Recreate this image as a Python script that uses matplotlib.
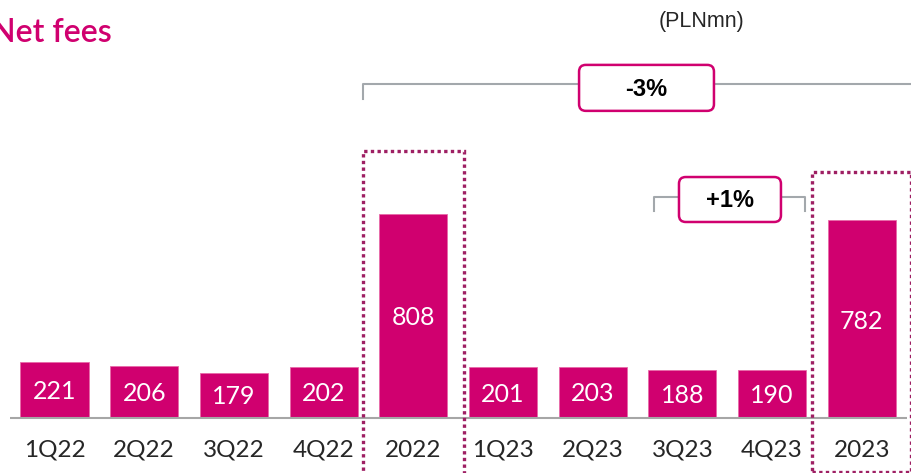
import matplotlib
matplotlib.use("Agg")
import matplotlib.pyplot as plt
from matplotlib.patches import FancyBboxPatch, Rectangle

plt.rcParams['font.family'] = ['Lato', 'DejaVu Sans']

categories = ["1Q22", "2Q22", "3Q22", "4Q22", "2022", "1Q23", "2Q23", "3Q23", "4Q23", "2023"]
values = [221, 206, 179, 202, 808, 201, 203, 188, 190, 782]
title = "Net fees"
unit = "(PLNmn)"
change_year = "-3%"
change_q = "+1%"

MAGENTA = "#D0006F"
DOT = "#9E1F63"
GRAY = "#A3A8AC"
TXT = "#262626"

W, H = 912, 473
fig = plt.figure(figsize=(W / 100, H / 100), dpi=100)
ax = fig.add_axes([0, 0, 1, 1])
ax.set_xlim(-0.608, 9.56)
ax.set_ylim(-218, 1655)
ax.axis("off")

x = list(range(len(categories)))
bars = ax.bar(x, values, width=0.76, color=MAGENTA, edgecolor="#E86AA8", linewidth=0.6, zorder=2)

# baseline
ax.plot([-0.496, 9.504], [0, 0], color="#A6A6A6", lw=1.5, zorder=3, solid_capstyle="butt")

for xi, v, c in zip(x, values, categories):
    ax.text(xi, v / 2 - 8 if v > 400 else v / 2 - 6, str(v), ha="center", va="center",
            color="white", fontsize=18, zorder=4)
    ax.text(xi, -127, c, ha="center", va="center", color=TXT, fontsize=17.5)

# dotted boxes around annual bars
dot_kw = dict(fill=False, edgecolor=DOT, lw=2.4, linestyle=(0, (1, 1)), zorder=5, clip_on=False)
ax.add_patch(Rectangle((4 - 0.56, -260), 1.125, 1057 + 260, **dot_kw))
ax.add_patch(Rectangle((9 - 0.555, -214), 1.103, 974 + 214, **dot_kw))

# -3% bracket
yb = 1323
ax.plot([3.44, 3.44, 9.7], [1263, yb, yb], color=GRAY, lw=1.5, clip_on=False, zorder=1)
ax.add_patch(FancyBboxPatch((6.6 - 0.752, 1307 - 91), 1.504, 182,
                            boxstyle="round,pad=0,rounding_size=0.075", mutation_aspect=355,
                            facecolor="white", edgecolor=MAGENTA, lw=1.8, zorder=6))
ax.text(6.6, 1300, change_year, ha="center", va="center", fontsize=17, fontweight="bold",
        color="black", zorder=7, family=["Liberation Sans", "DejaVu Sans"])

# +1% bracket
yq = 875
ax.plot([6.68, 6.68, 8.367, 8.367], [820, yq, yq, 820], color=GRAY, lw=1.5, zorder=1)
ax.add_patch(FancyBboxPatch((7.53 - 0.568, 865 - 89), 1.137, 178,
                            boxstyle="round,pad=0,rounding_size=0.075", mutation_aspect=355,
                            facecolor="white", edgecolor=MAGENTA, lw=1.8, zorder=6))
ax.text(7.53, 860, change_q, ha="center", va="center", fontsize=17, fontweight="bold",
        color="black", zorder=7, family=["Liberation Sans", "DejaVu Sans"])

fig.text(-9 / W, (H - 42) / H, title, ha="left", va="baseline", color=MAGENTA,
         fontsize=23, fontweight="semibold")
fig.text(702 / W, (H - 22) / H, unit, ha="center", va="center", color=TXT, fontsize=15.5,
         family=["Liberation Sans", "DejaVu Sans"])

fig.savefig("out.png", dpi=100)
